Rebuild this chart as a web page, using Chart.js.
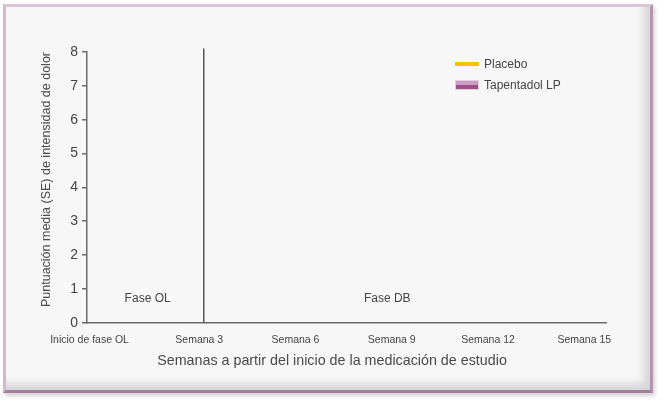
<!DOCTYPE html>
<html><head><meta charset="utf-8">
<script src="https://cdn.jsdelivr.net/npm/chart.js@4/dist/chart.umd.min.js"></script>
<style>
html,body{margin:0;padding:0;background:#fff;width:664px;height:403px;overflow:hidden}
#frame{position:absolute;left:3px;top:4px;width:650px;height:389px;box-sizing:border-box;background:#f7f7f7;border:3px solid;border-color:#dcc5d7 #b495b0 #a27f9e #d5b7cd;box-shadow:inset -6px -6px 8px rgba(0,0,0,0.14), 2px 3px 4px rgba(0,0,0,0.18)}
#wrap{position:absolute;left:0;top:0;width:664px;height:403px}
#legend{position:absolute;left:455px;top:53px;font:12px 'Liberation Sans',Arial,sans-serif;color:#444}
.item{display:flex;align-items:center;height:21px}
.sw{width:24px;margin-right:5px;box-sizing:border-box}
</style></head>
<body>
<div id="frame"></div>
<div id="wrap"><canvas id="c" width="664" height="403"></canvas></div>
<div id="legend"></div>
<script>
// ---- data ----
const seriesNames = ['Placebo', 'Tapentadol LP'];
const weeks = [];
const placeboValues = [];
const tapentadolValues = [];
const xTickWeeks = [-0.42, 3, 6, 9, 12, 15];
const xTickLabels = ['Inicio de fase OL', 'Semana 3', 'Semana 6', 'Semana 9', 'Semana 12', 'Semana 15'];
const phaseNames = ['Fase OL', 'Fase DB'];
const phaseBoundaryWeek = 3.14;

const FONT = "'Liberation Sans', Arial, Helvetica, sans-serif";
const placeboColor = '#f7c300';
const tapLight = '#cb9dc2';
const tapDark = '#a04f8d';

const phasePlugin = {
  id: 'phases',
  afterDatasetsDraw(chart, args, opts) {
    const {ctx, scales: {x, y}} = chart;
    ctx.save();
    ctx.strokeStyle = '#555';
    ctx.lineWidth = 1.5;
    const px = x.getPixelForValue(phaseBoundaryWeek);
    ctx.beginPath();
    ctx.moveTo(px, y.getPixelForValue(opts.boundaryTop));
    ctx.lineTo(px, y.getPixelForValue(0));
    ctx.stroke();
    ctx.fillStyle = '#444';
    ctx.font = '12px ' + FONT;
    ctx.textAlign = 'center';
    ctx.textBaseline = 'middle';
    phaseNames.forEach((t, i) => ctx.fillText(t, x.getPixelForValue(opts.labelWeeks[i]), y.getPixelForValue(opts.labelY)));
    ctx.restore();
  }
};

const chart = new Chart(document.getElementById('c'), {
  type: 'line',
  data: {
    datasets: [
      {label: seriesNames[0], data: weeks.map((w, i) => ({x: w, y: placeboValues[i]})), borderColor: placeboColor, backgroundColor: placeboColor},
      {label: seriesNames[1], data: weeks.map((w, i) => ({x: w, y: tapentadolValues[i]})), borderColor: tapDark, backgroundColor: tapLight}
    ]
  },
  options: {
    responsive: false,
    animation: false,
    layout: {padding: {left: 0, right: 0, top: 52, bottom: 0}},
    plugins: {
      legend: {display: false},
      tooltip: {enabled: false},
      title: {
        display: true, position: 'bottom',
        text: 'Semanas a partir del inicio de la medicación de estudio',
        color: '#4a4a4a', font: {family: FONT, size: 14.3, weight: 'normal'},
        padding: {top: 2.4, bottom: 33.7}
      },
      phases: {boundaryTop: 8.1, labelWeeks: [1.39, 8.86], labelY: 0.7}
    },
    scales: {
      x: {
        type: 'linear', min: -0.5, max: 15.7,
        afterBuildTicks(s) { s.ticks = xTickWeeks.map(v => ({value: v})); },
        afterFit(s) { s.height = 27; },
        grid: {display: true, drawOnChartArea: false, drawTicks: false},
        border: {display: true, color: '#6b6b6b', width: 1.5},
        ticks: {
          autoSkip: false, maxRotation: 0, padding: 11,
          color: '#444', font: {family: FONT, size: 10.5},
          callback: (v, i) => xTickLabels[i]
        }
      },
      y: {
        min: 0, max: 8,
        afterFit(s) { s.width = 87; },
        grid: {display: true, drawOnChartArea: false, drawTicks: true, tickLength: 5, color: '#6b6b6b', lineWidth: 1.5},
        border: {display: true, color: '#6b6b6b', width: 1.5},
        ticks: {stepSize: 1, padding: 4, color: '#444', font: {family: FONT, size: 14}},
        title: {
          display: true, text: 'Puntuación media (SE) de intensidad de dolor',
          align: 'end', color: '#4a4a4a', font: {family: FONT, size: 12.5},
          padding: {top: 39.5, bottom: 0}
        }
      },
      y2: {
        position: 'right', display: true, min: 0, max: 8,
        afterFit(s) { s.width = 57.3; },
        grid: {display: false, drawTicks: false},
        border: {display: false},
        ticks: {display: false}
      }
    }
  },
  plugins: [phasePlugin]
});

// HTML legend from datasets
const lg = document.getElementById('legend');
chart.data.datasets.forEach((ds, i) => {
  const item = document.createElement('div');
  item.className = 'item';
  const sw = document.createElement('span');
  sw.className = 'sw';
  if (i === 0) {
    sw.style.height = '4px';
    sw.style.background = ds.borderColor;
  } else {
    sw.style.height = '10px';
    sw.style.background = 'linear-gradient(' + ds.backgroundColor + ' 0 50%, ' + ds.borderColor + ' 50% 100%)';
    sw.style.border = '1px solid #e2cfdd';
  }
  const tx = document.createElement('span');
  tx.textContent = ds.label;
  item.appendChild(sw); item.appendChild(tx);
  lg.appendChild(item);
});
</script>
</body></html>
